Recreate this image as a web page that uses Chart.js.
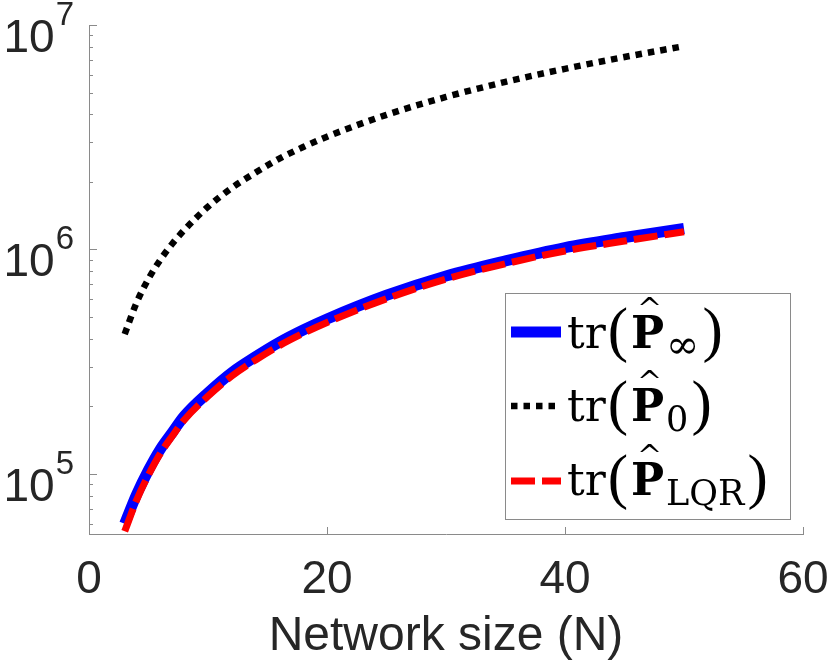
<!DOCTYPE html>
<html>
<head>
<meta charset="utf-8">
<script src="https://cdn.jsdelivr.net/npm/chart.js@4.4.1/dist/chart.umd.min.js"></script>
<style>
  html, body { margin: 0; padding: 0; background: #fff; }
  #wrap { width: 830px; height: 666px; }
</style>
</head>
<body>
<div id="wrap"><canvas id="chart" width="830" height="666"></canvas></div>
<script>
// network sizes N and the three traces
const sizes     = [3, 4, 5, 6, 7, 8, 10, 12, 14, 16, 18, 20, 25, 30, 35, 40, 45, 50]
const traceInf  = [6.0e4, 8.1e4, 1.04e5, 1.29e5, 1.53e5, 1.81e5, 2.3e5, 2.83e5, 3.33e5, 3.86e5, 4.38e5, 4.9e5, 6.25e5, 7.62e5, 8.9e5, 1.02e6, 1.13e6, 1.24e6]
const traceZero = [4.2e5, 5.8e5, 7.4e5, 9.0e5, 1.06e6, 1.22e6, 1.55e6, 1.88e6, 2.2e6, 2.54e6, 2.86e6, 3.18e6, 3.98e6, 4.78e6, 5.58e6, 6.38e6, 7.2e6, 8.05e6]
const traceLqr  = [5.55e4, 7.65e4, 9.9e4, 1.235e5, 1.475e5, 1.74e5, 2.22e5, 2.73e5, 3.22e5, 3.73e5, 4.23e5, 4.73e5, 6.03e5, 7.38e5, 8.64e5, 9.85e5, 1.09e6, 1.2e6]

const legendSubs = ['\u221E', '0', 'LQR']
const yDecades   = [5, 6, 7]

const SANS   = '"Liberation Sans", Arial, Helvetica, sans-serif'
const SERIF  = '"DejaVu Serif", serif'
const PAREN  = '"Liberation Serif", "Times New Roman", serif'
const TEXT   = '#262626'
const AXIS   = '#8a8a8a'

const toPoints = ys => sizes.map((n, i) => ({ x: n, y: ys[i] }))

// MATLAB style: ticks pointing into the axes, 10^k labels with raised exponent
const matlabAxes = {
  id: 'matlabAxes',
  afterDraw(chart) {
    const { ctx, chartArea: a, scales: { x, y } } = chart
    ctx.save()
    ctx.strokeStyle = AXIS
    ctx.lineWidth = 1
    ctx.beginPath()
    x.ticks.forEach(t => {
      const px = Math.round(x.getPixelForValue(t.value)) + 0.5
      ctx.moveTo(px, a.bottom)
      ctx.lineTo(px, a.bottom - 7)
    })
    y.ticks.forEach(t => {
      const py = Math.round(y.getPixelForValue(t.value)) + 0.5
      const mant = t.value / Math.pow(10, Math.floor(Math.log10(t.value) + 1e-9))
      const len = Math.abs(mant - 1) < 1e-6 ? 8 : 4
      ctx.moveTo(a.left, py)
      ctx.lineTo(a.left + len, py)
    })
    ctx.stroke()

    ctx.fillStyle = TEXT
    ctx.textAlign = 'right'
    ctx.textBaseline = 'alphabetic'
    yDecades.forEach(e => {
      const py = y.getPixelForValue(Math.pow(10, e))
      ctx.font = `33px ${SANS}`
      const ew = ctx.measureText(String(e)).width
      ctx.fillText(String(e), 74, py)
      ctx.font = `46px ${SANS}`
      ctx.fillText('10', 74 - ew - 1, py + 27)
    })
    ctx.restore()
  }
}

// legend box with tr(P-hat_sub) labels
const texLegend = {
  id: 'texLegend',
  afterDraw(chart) {
    const { ctx } = chart
    const box = { x: 505.5, y: 293.5, w: 285, h: 226 }
    const rows = [332, 406, 481]
    const bases = [348, 421, 495]
    ctx.save()
    ctx.fillStyle = '#fff'
    ctx.fillRect(box.x, box.y, box.w, box.h)
    ctx.strokeStyle = AXIS
    ctx.lineWidth = 1
    ctx.strokeRect(box.x, box.y, box.w, box.h)

    chart.data.datasets.forEach((ds, i) => {
      ctx.save()
      ctx.strokeStyle = ds.borderColor
      ctx.lineWidth = ds.borderWidth
      ctx.lineCap = 'butt'
      ctx.setLineDash(ds.borderDash || [])
      ctx.beginPath()
      ctx.moveTo(511, rows[i])
      ctx.lineTo(561, rows[i])
      ctx.stroke()
      ctx.restore()

      const b = bases[i]
      const sub = legendSubs[i]
      let x = 567
      ctx.fillStyle = '#000'
      ctx.textAlign = 'left'
      ctx.textBaseline = 'alphabetic'
      ctx.font = `44px ${SERIF}`
      ctx.fillText('tr', x, b)
      x += ctx.measureText('tr').width + 2
      ctx.font = `61px ${PAREN}`
      ctx.fillText('(', x, b + 2)
      x += ctx.measureText('(').width + 3
      ctx.font = `bold 44px ${SERIF}`
      const pw = ctx.measureText('P').width
      ctx.fillText('P', x, b)
      ctx.font = `30px ${SERIF}`
      ctx.textAlign = 'center'
      ctx.fillText('^', x + pw / 2 + 2, b - 29)
      ctx.textAlign = 'left'
      x += pw + 2
      ctx.font = sub === '\u221E' ? `40px ${SERIF}` : `35px ${SERIF}`
      ctx.fillText(sub, x, b + 10)
      x += ctx.measureText(sub).width + 3
      ctx.font = `61px ${PAREN}`
      ctx.fillText(')', x, b + 2)
    })
    ctx.restore()
  }
}

new Chart(document.getElementById('chart'), {
  type: 'line',
  data: {
    datasets: [
      { label: 'tr(P_inf)', data: toPoints(traceInf),  borderColor: '#0000ff', borderWidth: 11, order: 2 },
      { label: 'tr(P_0)',   data: toPoints(traceZero), borderColor: '#000000', borderWidth: 6.5, borderDash: [6.5, 6], order: 1 },
      { label: 'tr(P_LQR)', data: toPoints(traceLqr),  borderColor: '#ff0000', borderWidth: 7, borderDash: [24, 7], order: 0 },
    ],
  },
  options: {
    responsive: false,
    animation: false,
    layout: { padding: { top: 25, right: 27, left: 0, bottom: 0 } },
    plugins: { legend: { display: false }, tooltip: { enabled: false } },
    elements: {
      point: { radius: 0 },
      line:  { cubicInterpolationMode: 'monotone', borderCapStyle: 'butt', fill: false },
    },
    scales: {
      x: {
        type: 'linear',
        min: 0,
        max: 60,
        afterFit(s) { s.height = 132 },
        grid:   { display: false, drawTicks: true, tickLength: 19 },
        border: { color: AXIS, width: 1 },
        ticks:  { stepSize: 20, color: TEXT, font: { family: SANS, size: 46 }, padding: 0, maxRotation: 0 },
        title:  { display: true, text: 'Network size (N)', color: TEXT, font: { family: SANS, size: 48 }, padding: 0 },
      },
      y: {
        type: 'logarithmic',
        min: 5.4e4,
        max: 1e7,
        afterFit(s) { s.width = 89 },
        afterBuildTicks(s) {
          const ticks = []
          for (let e = 4; e < 7; e++) {
            for (let m = 1; m < 10; m++) {
              const v = m * Math.pow(10, e)
              if (v >= s.min && v <= s.max) ticks.push({ value: v })
            }
          }
          ticks.push({ value: 1e7 })
          s.ticks = ticks
        },
        grid:   { display: false, drawTicks: false },
        border: { color: AXIS, width: 1 },
        ticks:  { display: false },
      },
    },
  },
  plugins: [matlabAxes, texLegend],
})
</script>
</body>
</html>
